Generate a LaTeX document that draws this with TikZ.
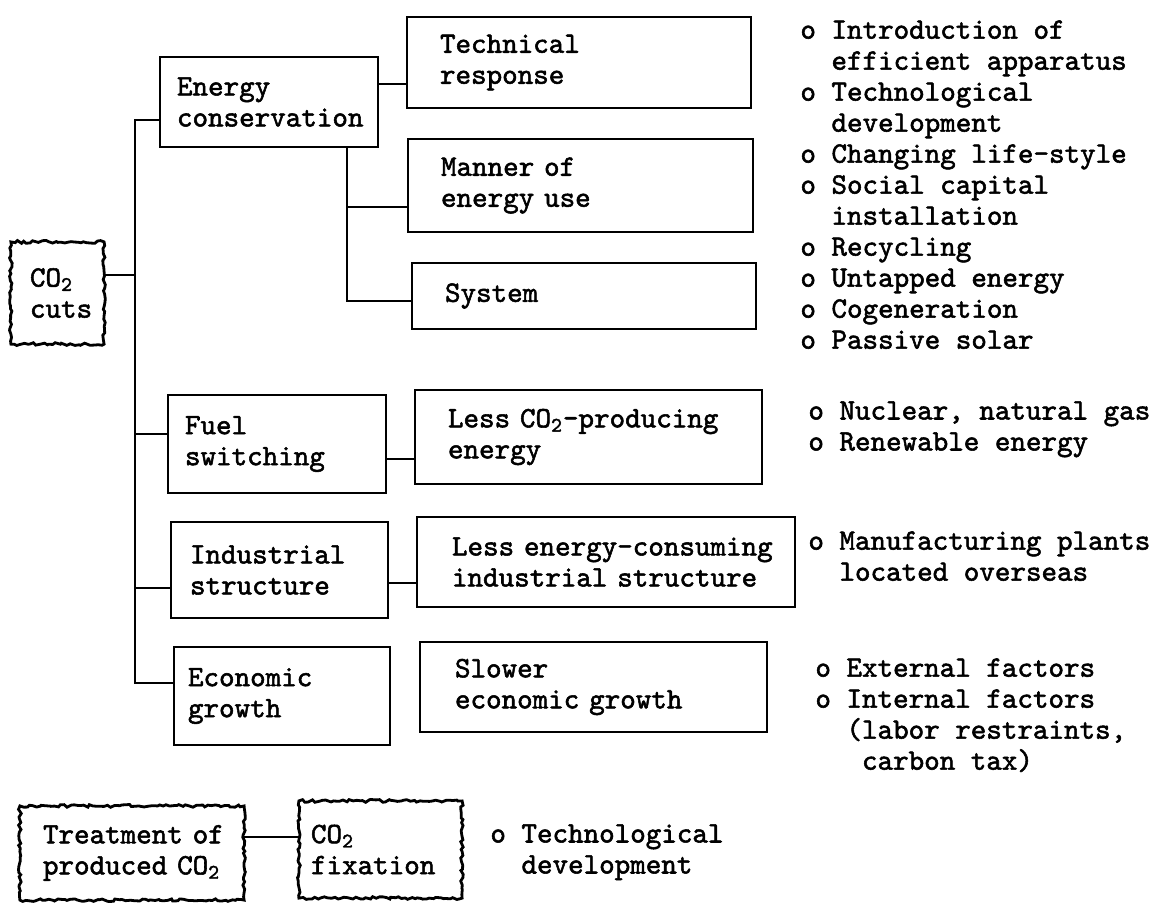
\documentclass[tikz,border=0pt]{standalone}
\usepackage{fontspec}
\newfontfamily\tw{lmmono10-regular.otf}[FakeBold=1.8]
\usetikzlibrary{decorations.pathmorphing}
\hfuzz=40pt \hbadness=10000
\newcommand\indtwo{\hspace*{15.54pt}}
\newcommand\indthree{\hspace*{23.31pt}}
\newcommand\oneline[1]{\mbox{#1}}
\begin{document}
\begin{tikzpicture}[x=0.5pt,y=-0.5pt,
  box/.style={draw, line width=1.1pt, font=\tw\fontsize{14.8}{15.5}\selectfont, align=left, inner ysep=0pt},
  roughline/.style={draw, decorate, decoration={random steps, segment length=1.6pt, amplitude=0.7pt}, line width=1.4pt},
  link/.style={line width=1.1pt},
  listtext/.style={font=\tw\fontsize{14.8}{15.5}\selectfont, align=left, inner sep=0pt, anchor=north west}]
\useasboundingbox (0,0) rectangle (1156,902);
\pgfmathsetseed{7}
% boxes
\node[box, draw=none, minimum width=45.5pt, minimum height=50pt, text width=27.5pt, inner xsep=9pt] (cuts) at (57.5,293) {\oneline{CO\textsubscript{2}}\\\oneline{cuts}};
\draw[roughline] (cuts.south west) rectangle (cuts.north east);
\node[box, minimum width=109pt, minimum height=45pt, text width=92pt, inner xsep=8.5pt] (ec) at (269,102) {\oneline{Energy}\\\oneline{conservation}};
\node[box, minimum width=172pt, minimum height=45.5pt, text width=139pt, inner xsep=16.5pt] (tr) at (579,62.5) {\oneline{Technical}\\\oneline{response}};
\node[box, minimum width=172.5pt, minimum height=46.5pt, text width=139.5pt, inner xsep=16.5pt] (mu) at (580.5,185.5) {\oneline{Manner of}\\\oneline{energy use}};
\node[box, minimum width=172pt, minimum height=33pt, text width=139pt, inner xsep=16.5pt] (sy) at (584,296) {\oneline{System}};
\node[box, minimum width=109pt, minimum height=49pt, text width=92pt, inner xsep=8.5pt] (fs) at (277,444) {\oneline{Fuel}\\\oneline{switching}};
\node[box, minimum width=173.5pt, minimum height=47pt, text width=140.5pt, inner xsep=16.5pt] (lc) at (588.5,437) {\oneline{Less CO\textsubscript{2}-producing}\\\oneline{energy}};
\node[box, minimum width=108.5pt, minimum height=48pt, text width=89.5pt, inner xsep=9.5pt] (is) at (279.5,570) {\oneline{Industrial}\\\oneline{structure}};
\node[box, minimum width=189pt, minimum height=45pt, text width=154pt, inner xsep=17.5pt] (le) at (606,562) {\oneline{Less energy-consuming}\\\oneline{industrial structure}};
\node[box, minimum width=108pt, minimum height=49pt, text width=94pt, inner xsep=7pt] (eg) at (282,696) {\oneline{Economic}\\\oneline{growth}};
\node[box, minimum width=173.5pt, minimum height=45pt, text width=138.5pt, inner xsep=17.5pt] (sl) at (593.5,687) {\oneline{Slower}\\\oneline{economic growth}};
\node[box, draw=none, minimum width=111pt, minimum height=46pt, text width=89pt, inner xsep=11pt] (tp) at (132,853) {\oneline{Treatment of}\\\oneline{produced CO\textsubscript{2}}};
\draw[roughline] (tp.south west) rectangle (tp.north east);
\node[box, draw=none, minimum width=80.5pt, minimum height=47.5pt, text width=69.5pt, inner xsep=5.5pt] (cf) at (380.5,849.5) {\oneline{CO\textsubscript{2}}\\\oneline{fixation}};
\draw[roughline] (cf.south west) rectangle (cf.north east);
% trunk
\coordinate (ttop) at (135,120);
\coordinate (tcut) at (135,275);
\coordinate (tfs) at (135,434);
\coordinate (tis) at (135,588);
\coordinate (tbot) at (135,683);
\draw[link] (cuts.east |- tcut) -- (tcut);
\draw[link] (ec.west |- ttop) -- (ttop) -- (tbot) -- (eg.west |- tbot);
\draw[link] (tfs) -- (fs.west |- tfs);
\draw[link] (tis) -- (is.west |- tis);
% energy conservation branches
\coordinate (btr) at (0,84);
\draw[link] (ec.east |- btr) -- (tr.west |- btr);
\coordinate (bmu) at (347,207);
\coordinate (bsy) at (347,301);
\draw[link] (ec.south -| bsy) -- (bsy) -- (sy.west |- bsy);
\draw[link] (bmu) -- (mu.west |- bmu);
% other links
\coordinate (blc) at (0,459);
\draw[link] (fs.east |- blc) -- (lc.west |- blc);
\coordinate (ble) at (0,583);
\draw[link] (is.east |- ble) -- (le.west |- ble);
\coordinate (bcf) at (0,837);
\draw[link] (tp.east |- bcf) -- (cf.west |- bcf);
% lists
\node[listtext] (l1) at (800,20) {o Introduction of\\\indtwo efficient apparatus\\o Technological\\\indtwo development\\o Changing life-style\\o Social capital\\\indtwo installation\\o Recycling\\o Untapped energy\\o Cogeneration\\o Passive solar};
\node[listtext] (l2) at (808,401) {o Nuclear, natural gas\\o Renewable energy};
\node[listtext] (l3) at (808,531) {o Manufacturing plants\\\indtwo located overseas};
\node[listtext] (l4) at (815,658) {o External factors\\o Internal factors\\\indtwo (labor restraints,\\\indthree carbon tax)};
\node[listtext] (l5) at (490,824) {o Technological\\\indtwo development};
\end{tikzpicture}
\end{document}
